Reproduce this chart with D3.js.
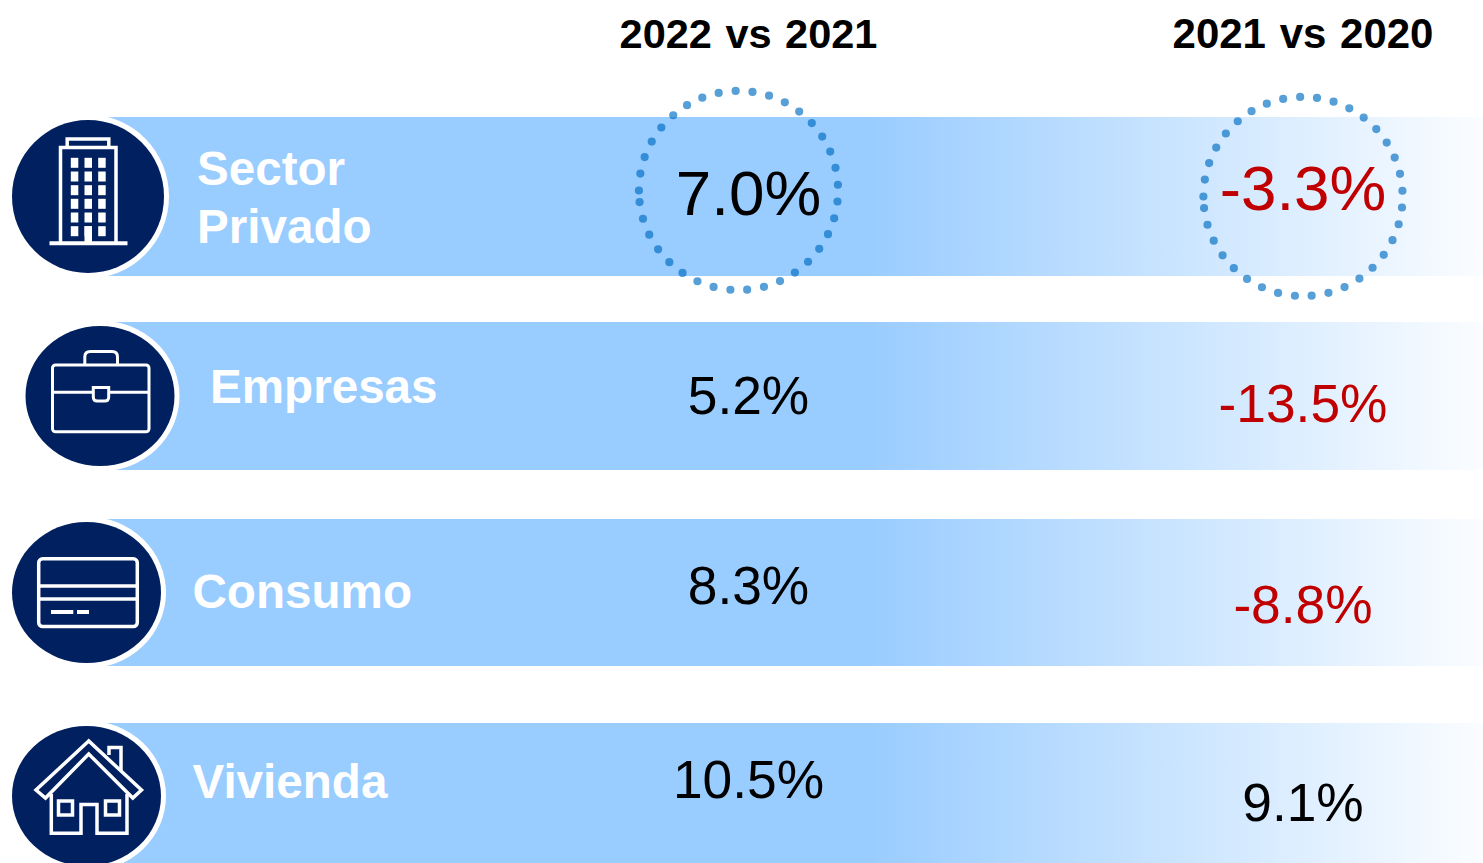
<!DOCTYPE html>
<html>
<head>
<meta charset="utf-8">
<script src="https://cdn.jsdelivr.net/npm/d3@7"></script>
<style>
    html, body { margin: 0; padding: 0; background: #fff; overflow: hidden; }
    svg { display: block; font-family: "Liberation Sans", Arial, sans-serif; }
</style>
</head>
<body>
<div id="vis"></div>
<script>
// data
const categories = ["Sector Privado", "Empresas", "Consumo", "Vivienda"];
const periods = ["2022 vs 2021", "2021 vs 2020"];
const values2022 = [7.0, 5.2, 8.3, 10.5];
const values2021 = [-3.3, -13.5, -8.8, 9.1];
const highlighted = ["Sector Privado"];

const width = 1483, height = 863;
const svg = d3.select("#vis").append("svg")
    .attr("width", width)
    .attr("height", height);

// the rows in the picture are not evenly spaced, so ordinal scales
const barTop = d3.scaleOrdinal(categories, [117, 322, 519, 723]);
const barBottom = d3.scaleOrdinal(categories, [276, 470, 666, 870]);
const iconX = d3.scaleOrdinal(categories, [88, 100, 86.5, 86.5]);
const iconY = d3.scaleOrdinal(categories, [196.5, 396, 592.5, 796]);
const iconRx = d3.scaleOrdinal(categories, [76, 74.5, 74.5, 74.5]);
const iconRy = d3.scaleOrdinal(categories, [76.5, 70, 70.5, 70]);
const labelX = d3.scaleOrdinal(categories, [197, 210, 192.5, 192.5]);
const labelY = d3.scaleOrdinal(categories, [185, 403, 608, 798]);
const periodX = d3.scaleOrdinal(periods, [748.5, 1303]);
const periodSize = d3.scaleOrdinal(periods, [41.5, 42]);
const valueY = {
    [periods[0]]: d3.scaleOrdinal(categories, [215, 414, 604, 798]),
    [periods[1]]: d3.scaleOrdinal(categories, [209.5, 422, 623, 821])
};
const valueSize = d3.scaleOrdinal(categories, [63.8, 53.3, 53.3, 53.3]);

const navy = "#00205F", barBlue = "#99CCFF", red = "#C00000";

const grad = svg.append("defs").append("linearGradient")
    .attr("id", "barFade")
    .attr("gradientUnits", "userSpaceOnUse")
    .attr("x1", 865).attr("x2", 1510)
    .attr("y1", 0).attr("y2", 0);
grad.append("stop").attr("offset", 0).attr("stop-color", barBlue);
grad.append("stop").attr("offset", 1).attr("stop-color", "#fff");

// bars
svg.selectAll("rect.bar")
    .data(categories)
    .enter().append("rect")
    .attr("class", "bar")
    .attr("x", d => iconX(d))
    .attr("y", d => barTop(d))
    .attr("width", d => width - iconX(d))
    .attr("height", d => barBottom(d) - barTop(d))
    .attr("fill", "url(#barFade)");

// icon discs
const icons = svg.selectAll("g.icon")
    .data(categories)
    .enter().append("g")
    .attr("class", "icon")
    .attr("transform", d => `translate(${iconX(d)},${iconY(d)})`);

icons.append("ellipse")
    .attr("rx", d => iconRx(d) + 5)
    .attr("ry", d => iconRy(d) + 5.5)
    .attr("fill", "#fff");
icons.append("ellipse")
    .attr("rx", d => iconRx(d))
    .attr("ry", d => iconRy(d))
    .attr("fill", navy);

const glyph = icons.append("g")
    .attr("fill", "none")
    .attr("stroke", "#fff")
    .attr("stroke-width", 3.5);

// building
const building = glyph.filter(d => d === categories[0]);
building.append("path").attr("d", "M-38.5,46.7H39.5").attr("stroke-width", 4);
building.append("path").attr("d", "M-27.5,46.7V-49H28V46.7");
building.append("path").attr("d", "M-20.8,-49V-57.5H20.8V-49");
[-17.2, -3.5, 10.2].forEach(x => {
    [-38.7, -25, -11.3, 2.3, 16, 29.7].forEach(y => {
        building.append("rect")
            .attr("x", x).attr("y", y)
            .attr("width", 7.5).attr("height", 10)
            .attr("fill", "#fff").attr("stroke", "none");
    });
});
building.append("rect")
    .attr("x", -3.5).attr("y", 29.7)
    .attr("width", 7.5).attr("height", 16)
    .attr("fill", "#fff").attr("stroke", "none");

// briefcase
const briefcase = glyph.filter(d => d === categories[1]).attr("stroke-width", 3);
briefcase.append("rect")
    .attr("x", -47.5).attr("y", -31)
    .attr("width", 96.5).attr("height", 66.7)
    .attr("rx", 3);
briefcase.append("path").attr("d", "M-47.5,-3.7H-6.7M8.7,-3.7H49");
briefcase.append("path").attr("d", "M-15.2,-31V-39Q-15.2,-44.5 -9.7,-44.5H12Q17.5,-44.5 17.5,-39V-31");
briefcase.append("path").attr("d", "M-6.7,-8.5H8.7V1Q8.7,5 4.7,5H-2.7Q-6.7,5 -6.7,1Z");

// credit card
const card = glyph.filter(d => d === categories[2]);
card.append("rect")
    .attr("x", -47.8).attr("y", -33.8)
    .attr("width", 98.6).attr("height", 67.9)
    .attr("rx", 4);
card.append("path").attr("d", "M-47.8,-6.5H50.8M-47.8,6.5H50.8");
card.append("path").attr("d", "M-35.5,19.5H-13.2M-9.5,19.5H2.5").attr("stroke-width", 4);

// house
const house = glyph.filter(d => d === categories[3]);
house.append("path").attr("d", "M2.2,-55L-50.5,-6L-41,2L2.2,-42L46.3,2L55,-6Z");
house.append("path").attr("d", "M22.5,-41V-48.5H34.5V-26");
house.append("path").attr("d", "M-35.2,-2V37.3H-5.5V8.5H10.5V37.3H40.5V-2");
house.append("rect").attr("x", -28).attr("y", 5).attr("width", 14).attr("height", 14);
house.append("rect").attr("x", 19).attr("y", 5).attr("width", 14).attr("height", 14);

// category labels, Sector Privado takes two lines
const labels = svg.selectAll("text.label")
    .data(categories)
    .enter().append("text")
    .attr("class", "label")
    .attr("y", d => labelY(d))
    .attr("fill", "#fff")
    .attr("font-size", 47.6)
    .attr("font-weight", "bold");
labels.selectAll("tspan")
    .data(d => d.split(" ").map(word => ({ word, cat: d })))
    .enter().append("tspan")
    .attr("x", d => labelX(d.cat))
    .attr("dy", (d, i) => i ? 58 : 0)
    .text(d => d.word);

// column headers
svg.selectAll("text.period")
    .data(periods)
    .enter().append("text")
    .attr("class", "period")
    .attr("x", d => periodX(d))
    .attr("y", 48)
    .attr("text-anchor", "middle")
    .attr("font-size", d => periodSize(d))
    .attr("font-weight", "bold")
    .attr("word-spacing", 2)
    .attr("fill", "#000")
    .text(d => d);

// dotted rings round the highlighted row
const ringX = d3.scaleOrdinal(periods, [738.5, 1303]);
const ringY = d3.scaleOrdinal(periods, [190.5, 196.5]);
periods.forEach(p => {
    highlighted.forEach(() => {
        svg.append("circle")
            .attr("r", 99.6)
            .attr("transform", `translate(${ringX(p)},${ringY(p)}) rotate(180)`)
            .attr("fill", "none")
            .attr("stroke", "#006DC3")
            .attr("stroke-opacity", 0.66)
            .attr("stroke-width", 8.2)
            .attr("stroke-linecap", "round")
            .attr("stroke-dasharray", "0 17.03");
    });
});

// values
[values2022, values2021].forEach((vals, c) => {
    const p = periods[c];
    svg.selectAll(`text.val${c}`)
        .data(vals)
        .enter().append("text")
        .attr("class", `val${c}`)
        .attr("x", periodX(p))
        .attr("y", (d, i) => valueY[p](categories[i]))
        .attr("text-anchor", "middle")
        .attr("font-size", (d, i) => valueSize(categories[i]))
        .attr("fill", d => d < 0 ? red : "#000")
        .text(d => `${d.toFixed(1)}%`);
});
</script>
</body>
</html>
